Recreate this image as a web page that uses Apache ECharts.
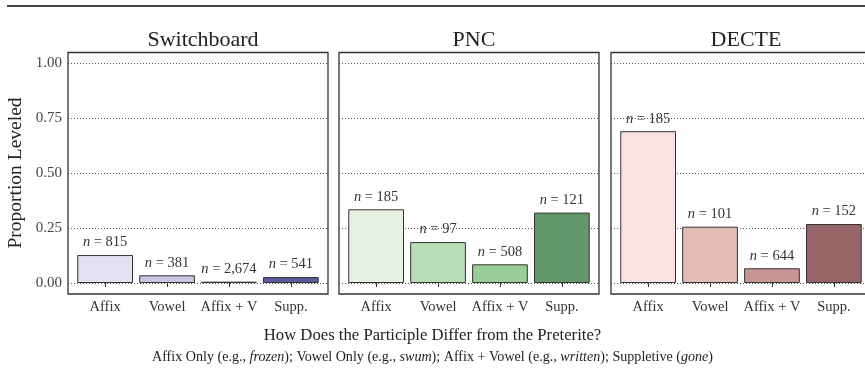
<!DOCTYPE html>
<html>
<head>
<meta charset="utf-8">
<script src="https://cdn.jsdelivr.net/npm/echarts@6/dist/echarts.min.js"></script>
<style>html,body{margin:0;padding:0;background:#fff}#c{width:865px;height:368px}</style>
</head>
<body>
<div id="c"></div>
<script>
const categories = ['Affix', 'Vowel', 'Affix + V', 'Supp.'];
const panelNames = ['Switchboard', 'PNC', 'DECTE'];
const switchboardValues = [0.127, 0.035, 0.006, 0.027];
const pncValues = [0.335, 0.186, 0.085, 0.320];
const decteValues = [0.690, 0.256, 0.067, 0.268];
const switchboardN = ['815', '381', '2,674', '541'];
const pncN = ['185', '97', '508', '121'];
const decteN = ['185', '101', '644', '152'];
const switchboardColors = ['#e1e1f0', '#c6c5e3', '#9d9ac8', '#5a5c9d'];
const pncColors = ['#e5f2e1', '#b9deb7', '#99cd96', '#63996a'];
const decteColors = ['#fce3e3', '#e4bcb4', '#c89595', '#966567'];
const yTicks = [0, 0.25, 0.5, 0.75, 1];
const xTitle = 'How Does the Participle Differ from the Preterite?';
const yTitle = 'Proportion Leveled';

const FONT = 'Liberation Serif';
const values = [switchboardValues, pncValues, decteValues];
const ns = [switchboardN, pncN, decteN];
const colors = [switchboardColors, pncColors, decteColors];

const panelLeft = [68, 339, 611];
const panelW = 260;
const unit = panelW / 4.2;
const plotTop = 63, plotH = 220;

const grid = [], xAxis = [], yAxis = [], series = [], title = [], graphic = [];
graphic.push({type: 'line', shape: {x1: 7, y1: 6, x2: 865, y2: 6}, style: {stroke: '#444', lineWidth: 2}, z: 10});

panelNames.forEach((name, i) => {
  const L = panelLeft[i];
  grid.push({left: L, top: plotTop, width: panelW, height: plotH});
  xAxis.push({type: 'value', gridIndex: 2 * i, min: 0, max: 1, show: false});
  yAxis.push({
    type: 'value', gridIndex: 2 * i, min: yTicks[0], max: yTicks[yTicks.length - 1], interval: 0.25,
    axisLine: {show: false}, axisTick: {show: false},
    axisLabel: {show: i === 0, margin: 6, fontFamily: FONT, fontSize: 15, color: '#444',
      formatter: v => v.toFixed(2)},
    splitLine: {show: true, lineStyle: {type: [1, 2], color: '#555', width: 1}},
    name: i === 0 ? yTitle : '', nameLocation: 'middle', nameGap: 42, nameRotate: 90,
    nameTextStyle: {fontFamily: FONT, fontSize: 19.5, color: '#222'}
  });
  grid.push({left: L + 0.1 * unit, top: plotTop, width: 4 * unit, height: plotH});
  xAxis.push({
    type: 'category', gridIndex: 2 * i + 1, data: categories, offset: 11,
    axisLine: {show: false},
    axisTick: {show: true, alignWithLabel: true, length: 4, lineStyle: {color: '#333', width: 1}},
    axisLabel: {margin: 6, fontFamily: FONT, fontSize: 14.5, color: '#333', interval: 0}
  });
  yAxis.push({type: 'value', gridIndex: 2 * i + 1, min: 0, max: 1, show: false});
  series.push({
    type: 'bar', xAxisIndex: 2 * i + 1, yAxisIndex: 2 * i + 1,
    barCategoryGap: '10%',
    data: values[i].map((v, k) => ({value: v, itemStyle: {color: colors[i][k], borderColor: '#333', borderWidth: 1}})),
    label: {
      show: true, position: 'top', distance: 5,
      formatter: p => '{i|n} = ' + ns[i][p.dataIndex],
      fontFamily: FONT, fontSize: 14.5, color: '#333',
      rich: {i: {fontFamily: FONT, fontStyle: 'italic', fontSize: 14.5, color: '#333'}}
    }
  });
  title.push({text: name, left: L + panelW / 2, top: 24, textAlign: 'center',
    textStyle: {fontFamily: FONT, fontSize: 22, fontWeight: 'normal', color: '#222'}});
  graphic.push({type: 'rect', shape: {x: L, y: 52.5, width: panelW, height: 241.5},
    style: {fill: 'none', stroke: '#333', lineWidth: 1.3}, z: 10});
});

title.push({text: xTitle, left: 'center', top: 322,
  textStyle: {fontFamily: FONT, fontSize: 16.7, fontWeight: 'normal', color: '#222'}});
title.push({
  text: 'Affix Only (e.g., {i|frozen}); Vowel Only (e.g., {i|swum}); Affix + Vowel (e.g., {i|written}); Suppletive ({i|gone})',
  left: 'center', top: 345,
  textStyle: {fontFamily: FONT, fontSize: 14.1, fontWeight: 'normal', color: '#222',
    rich: {i: {fontFamily: FONT, fontStyle: 'italic', fontSize: 14.1, color: '#222'}}}
});

const chart = echarts.init(document.getElementById('c'), null, {renderer: 'canvas'});
chart.setOption({animation: false, title, grid, xAxis, yAxis, series, graphic});
</script>
</body>
</html>
